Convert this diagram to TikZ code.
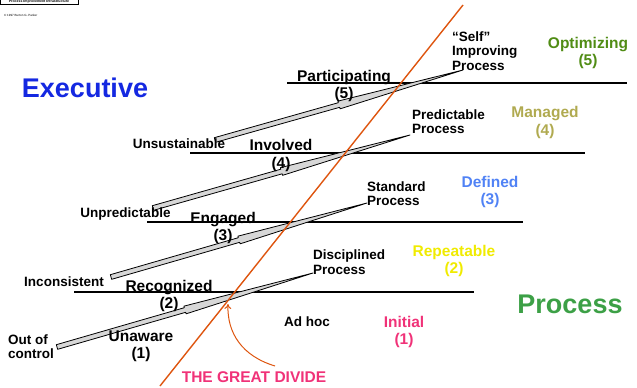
\documentclass[tikz,border=0pt]{standalone}
\usepackage{fontspec}
\setmainfont{Liberation Sans}
\usetikzlibrary{calc,arrows.meta}
\definecolor{divorange}{RGB}{222,85,15}
\definecolor{execblue}{RGB}{20,40,225}
\definecolor{procgreen}{RGB}{60,160,70}
\definecolor{optgreen}{RGB}{80,140,20}
\definecolor{mangold}{RGB}{176,170,80}
\definecolor{defblue}{RGB}{80,130,245}
\definecolor{repyellow}{RGB}{240,235,0}
\definecolor{initpink}{RGB}{240,50,120}
\definecolor{lancegray}{RGB}{215,215,215}
\tikzset{
  big/.style={font=\fontsize{27}{29}\selectfont\bfseries, inner sep=0pt},
  stage/.style={font=\fontsize{15.5}{17.5}\selectfont\bfseries, inner sep=0pt, align=center},
  small/.style={font=\fontsize{13.5}{14.5}\selectfont\bfseries, inner sep=0pt, align=left},
  level/.style={line width=1.6pt},
  lancestyle/.style={draw=black, fill=lancegray, line width=0.8pt, line join=round},
  divide/.style={draw=divorange, line width=1.4pt},
}
\newcommand\drawlance[3]{%
  \filldraw[lancestyle] ($(#1)!2.4pt!90:(#2)$) -- ($(#1)!#3!(#2)!2.4pt!90:(#2)$)
   -- ($(#1)!#3!(#2)!4pt!90:(#2)$) -- (#2) -- ($(#1)!#3!(#2)!4pt!-90:(#2)$)
   -- ($(#1)!#3!(#2)!2.4pt!-90:(#2)$) -- ($(#1)!2.4pt!-90:(#2)$) -- cycle;}
\begin{document}
\begin{tikzpicture}[x=1pt,y=-1pt]
\useasboundingbox (0,0) rectangle (637,388);
% logo
\draw[line width=0.8pt] (0,-2) -- (0,4) -- (78,4) -- (78,-2);
\node[inner sep=0pt, font=\fontsize{3.5}{4}\selectfont\bfseries] (logo) at (39,1.5) {Process Improvement Infrastructure};
\node[inner sep=0pt, font=\fontsize{3}{3.5}\selectfont, anchor=west] (copy) at (4,15.5) {\textcopyright\ 1997 Burton G. Parker};
% level lines
\coordinate (h5a) at (287,83);  \coordinate (h5b) at (627,83);
\coordinate (h4a) at (190,153); \coordinate (h4b) at (585,153);
\coordinate (h3a) at (147,222); \coordinate (h3b) at (523,222);
\coordinate (h2a) at (74,292);  \coordinate (h2b) at (474,292);
\draw[level] (h5a) -- (h5b);
\draw[level] (h4a) -- (h4b);
\draw[level] (h3a) -- (h3b);
\draw[level] (h2a) -- (h2b);
% lances
\coordinate (l1a) at (57,347);  \coordinate (l1b) at (313,273);
\coordinate (l2a) at (111,277); \coordinate (l2b) at (367,203);
\coordinate (l3a) at (153,208); \coordinate (l3b) at (410,135);
\coordinate (l4a) at (215,140); \coordinate (l4b) at (463,70);
\drawlance{l1a}{l1b}{0.5}
\drawlance{l2a}{l2b}{0.5}
\drawlance{l3a}{l3b}{0.5}
\drawlance{l4a}{l4b}{0.5}
% big titles
\node[big, text=execblue] (exec) at (85,88) {Executive};
\node[big, text=procgreen] (proc) at (570,304) {Process};
% maturity levels
\node[stage, text=optgreen] (opt) at (588,53) {Optimizing\\(5)};
\node[stage, text=mangold] (man) at (545,122.5) {Managed\\(4)};
\node[stage, text=defblue] (def) at (490,192) {Defined\\(3)};
\node[stage, text=repyellow] (rep) at (454,261) {Repeatable\\(2)};
\node[stage, text=initpink] (ini) at (404,332) {Initial\\(1)};
% executive stages
\node[stage] (part) at (344,86) {Participating\\(5)};
\node[stage] (inv) at (281,155.5) {Involved\\(4)};
\node[stage] (eng) at (223,228) {Engaged\\(3)};
\node[stage] (rec) at (169,296) {Recognized\\(2)};
\node[stage] (una) at (141,346.5) {Unaware\\(1)};
% small labels
\node[small, anchor=west] (self) at (452,51) {``Self''\\Improving\\Process};
\node[small, anchor=west] (pred) at (412,121.5) {Predictable\\Process};
\node[small, anchor=west] (stan) at (367,193.5) {Standard\\Process};
\node[small, anchor=west] (disc) at (313,262) {Disciplined\\Process};
\node[small] (unsu) at (179,144) {Unsustainable};
\node[small] (unpr) at (125.5,214) {Unpredictable};
\node[small] (inco) at (64,282) {Inconsistent};
\node[small, anchor=west] (outc) at (8,346.5) {Out of\\control};
\node[small] (adhoc) at (307,322) {Ad hoc};
% the great divide
\node[stage, text=initpink] (gd) at (254,377) {THE GREAT DIVIDE};
\coordinate (gd1) at (160,386); \coordinate (gd2) at (463,5);
\draw[divide] (gd1) -- (gd2);
\coordinate (arrstart) at (275,366); \coordinate (arrend) at (228,304);
\draw[draw=divorange, line width=1pt, -{To[length=5pt,width=7pt]}] (arrstart) .. controls (242,356) and (227,333) .. (arrend);
\end{tikzpicture}
\end{document}
